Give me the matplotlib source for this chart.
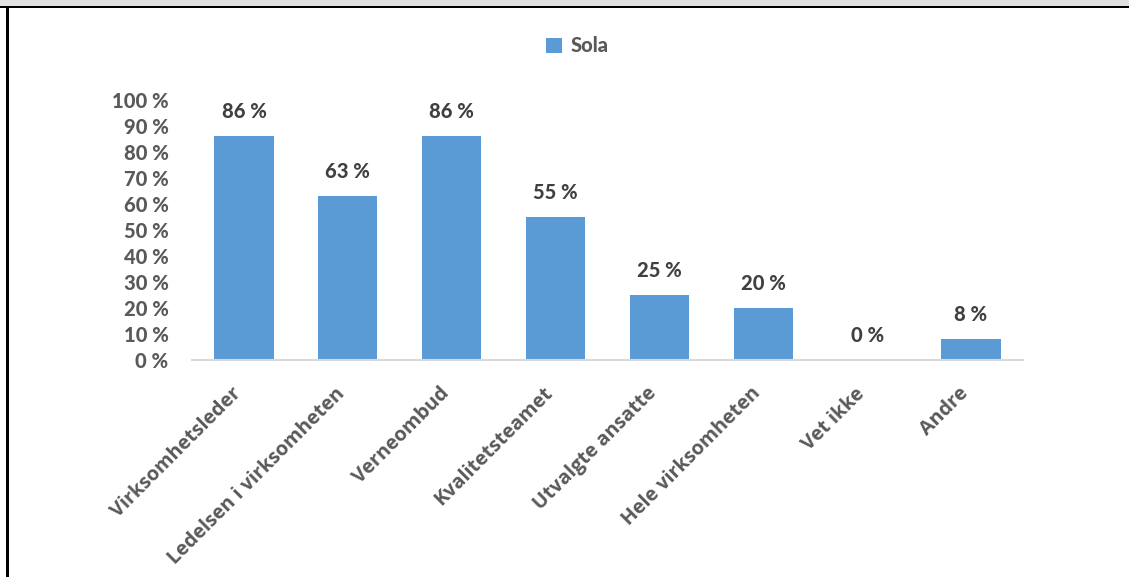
import matplotlib.pyplot as plt
from matplotlib.patches import Rectangle
import matplotlib.transforms as mtransforms

categories = ["Virksomhetsleder", "Ledelsen i virksomheten", "Verneombud",
              "Kvalitetsteamet", "Utvalgte ansatte", "Hele virksomheten",
              "Vet ikke", "Andre"]
sola = [86, 63, 86, 55, 25, 20, 0, 8]
yticks = list(range(0, 101, 10))

W, H = 1129, 577
fig = plt.figure(figsize=(W / 100, H / 100), dpi=100)

# ramme rundt figuren
fig.patches.append(Rectangle((0, 1 - 6 / H), 1, 6 / H, transform=fig.transFigure,
                             facecolor="#e0e0e0", edgecolor="none"))
fig.patches.append(Rectangle((0, 1 - 8 / H), 1, 2.5 / H, transform=fig.transFigure,
                             facecolor="black", edgecolor="none"))
fig.patches.append(Rectangle((6 / W, 0), 2.5 / W, 1 - 6 / H, transform=fig.transFigure,
                             facecolor="black", edgecolor="none"))

ax = fig.add_axes([192 / W, 217 / H, 831 / W, 260 / H])
x = list(range(len(categories)))
bars = ax.bar(x, sola, width=0.57, color="#5b9bd5", label="Sola")

ax.set_xlim(-0.5, len(categories) - 0.5)
ax.set_ylim(0, 100)
ax.set_yticks(yticks)
ax.set_yticklabels([f"{v} %" for v in yticks])
ax.tick_params(axis="y", length=0, pad=17, labelsize=14.5, labelcolor="#595959")
ax.tick_params(axis="x", length=0, pad=17, labelsize=14.2, labelcolor="#595959")
for lab in ax.get_yticklabels():
    lab.set_fontfamily("Lato")
    lab.set_fontweight("black")

ax.set_xticks(x)
ax.set_xticklabels(categories, rotation=45, ha="right", va="top",
                   rotation_mode="anchor", fontfamily="Open Sans", fontweight="bold")
offset = mtransforms.ScaledTranslation(-9 / 72, 0, fig.dpi_scale_trans)
for lab in ax.get_xticklabels():
    lab.set_transform(lab.get_transform() + offset)

for s in ["top", "right", "left"]:
    ax.spines[s].set_visible(False)
ax.spines["bottom"].set_color("#d9d9d9")
ax.spines["bottom"].set_linewidth(1.5)

for xi, v in zip(x, sola):
    ax.annotate(f"{v} %", (xi, v), xytext=(0, 11), textcoords="offset points",
                ha="center", va="bottom", fontsize=14.5, fontweight="black",
                fontfamily="Lato", color="#404040")

fig.legend(handles=[bars], labels=["Sola"], loc="center", bbox_to_anchor=(577 / W, 1 - 46 / H),
           frameon=False, handlelength=0.8, handleheight=0.8, handletextpad=0.4,
           prop={"family": "Lato", "weight": "black", "size": 14.5},
           labelcolor="#595959")

fig.savefig("out.png", dpi=100)
